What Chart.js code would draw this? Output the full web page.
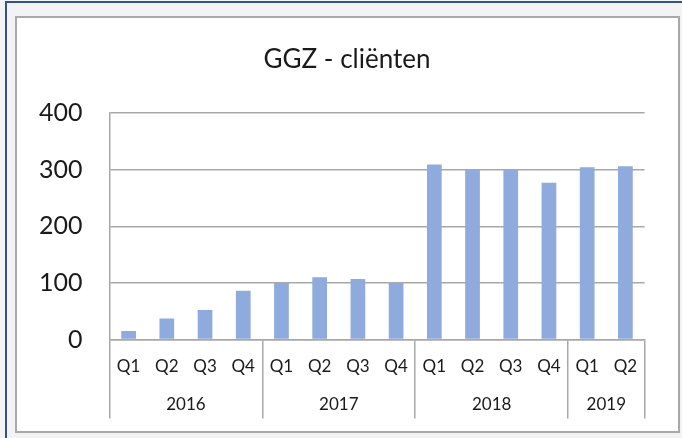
<!DOCTYPE html>
<html>
<head>
<meta charset="utf-8">
<script src="https://cdn.jsdelivr.net/npm/chart.js@4.4.1/dist/chart.umd.min.js"></script>
<style>
  html, body { margin: 0; padding: 0; width: 682px; height: 438px; overflow: hidden; background: #f4f4f4; }
  #outer { position: absolute; left: 5px; top: 1px; width: 677px; height: 437px;
           border-left: 2px solid #34518f; border-top: 2px solid #34518f; background: #f3f3f3; box-sizing: border-box; }
  #inner { position: absolute; left: 15px; top: 16px; width: 665px; height: 417px;
           background: #ffffff; border: 2px solid #a9a9a9; box-sizing: border-box; }
  canvas { position: absolute; left: 0; top: 0; }
</style>
</head>
<body>
<div id="outer"></div>
<div id="inner"></div>
<canvas id="c" width="682" height="438"></canvas>
<script>
// ---- data ----
const chartTitle = 'GGZ - cliënten';
const quarters = ['Q1','Q2','Q3','Q4','Q1','Q2','Q3','Q4','Q1','Q2','Q3','Q4','Q1','Q2'];
const periodYears = ['2016','2016','2016','2016','2017','2017','2017','2017','2018','2018','2018','2018','2019','2019'];
const clients = [15, 37, 52, 86, 100, 110, 107, 100, 309, 301, 300, 277, 304, 306];
const yTicks = [0, 100, 200, 300, 400];

// ---- derived groups (year spans) ----
const yearGroups = [];
periodYears.forEach((y, i) => {
  const last = yearGroups[yearGroups.length - 1];
  if (last && last.year === y) { last.end = i; }
  else { yearGroups.push({ year: y, start: i, end: i }); }
});
const boundaryIdx = new Set([0, quarters.length]);
yearGroups.forEach(g => { boundaryIdx.add(g.start); boundaryIdx.add(g.end + 1); });

const FONT = 'Lato, "Open Sans", sans-serif';
const GRID = '#a8a8a8';
const TEXT = '#1a1a1a';

new Chart(document.getElementById('c'), {
  type: 'bar',
  data: {
    labels: quarters,
    datasets: [{
      data: clients,
      backgroundColor: '#8faadc',
      borderWidth: 0,
      categoryPercentage: 1,
      barPercentage: 0.385
    }]
  },
  options: {
    responsive: false,
    animation: false,
    devicePixelRatio: 1,
    layout: { padding: { left: 12, right: 0, top: 0, bottom: 0 } },
    plugins: {
      legend: { display: false },
      tooltip: { enabled: false },
      title: {
        display: true,
        text: chartTitle,
        color: TEXT,
        font: { family: FONT, size: 26, weight: 'normal' },
        padding: { top: 44.4, bottom: 37.4 }
      }
    },
    scales: {
      y: {
        min: yTicks[0],
        max: yTicks[yTicks.length - 1],
        afterBuildTicks: s => { s.ticks = yTicks.map(v => ({ value: v })); },
        afterFit: s => { s.width = 97.5; },
        ticks: { color: TEXT, font: { family: FONT, size: 25 }, padding: 27 },
        grid: { color: GRID, lineWidth: 1.5, drawTicks: false },
        border: { display: true, color: GRID, width: 1.5 }
      },
      yRight: {
        type: 'linear',
        position: 'right',
        display: true,
        afterFit: s => { s.width = 37.5; },
        ticks: { display: false },
        grid: { display: false, drawTicks: false },
        border: { display: false }
      },
      x: {
        type: 'category',
        position: 'bottom',
        weight: 0,
        offset: true,
        afterFit: s => { s.height = 40; },
        ticks: { color: TEXT, font: { family: FONT, size: 17 }, padding: -62, autoSkip: false, maxRotation: 0 },
        grid: {
          offset: true,
          drawOnChartArea: false,
          drawTicks: true,
          tickLength: 79,
          lineWidth: 1.5,
          color: ctx => (ctx.type !== 'tick' || boundaryIdx.has(ctx.index)) ? GRID : 'rgba(0,0,0,0)'
        },
        border: { display: true, color: GRID, width: 1.5 }
      },
      x2: {
        type: 'linear',
        position: 'bottom',
        weight: 1,
        offset: false,
        min: -0.5,
        max: quarters.length - 0.5,
        afterBuildTicks: s => { s.ticks = yearGroups.map(g => ({ value: (g.start + g.end) / 2 })); },
        afterFit: s => { s.height = 58.5; },
        ticks: {
          color: TEXT, font: { family: FONT, size: 17 }, padding: 15.3, autoSkip: false, maxRotation: 0,
          callback: (v) => { const g = yearGroups.find(g => (g.start + g.end) / 2 === v); return g ? g.year : ''; }
        },
        grid: { display: false, drawTicks: false },
        border: { display: false }
      }
    }
  }
});
</script>
</body>
</html>
